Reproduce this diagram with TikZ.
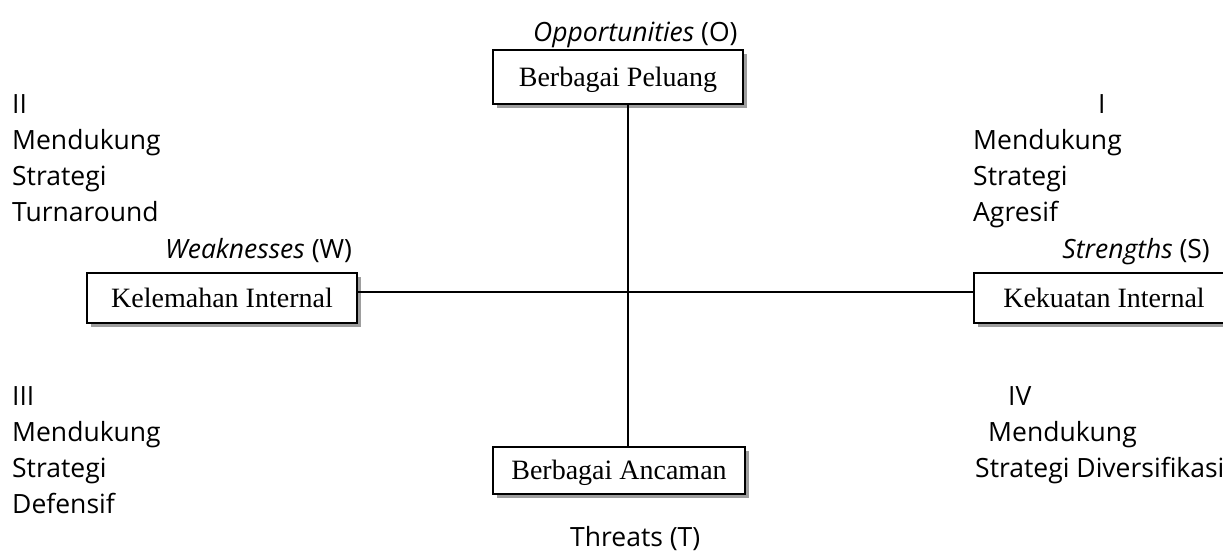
\documentclass[tikz,border=0pt]{standalone}
\usepackage{fontspec}
\usepackage{tikz}
\usetikzlibrary{shadows}
\setmainfont{Liberation Serif}
\newfontfamily\sansopen{Open Sans}
\tikzstyle{kotak} = [draw, line width=1.8pt, fill=white, inner sep=0pt, text height=18pt, text depth=0pt, font=\fontsize{28}{32}\selectfont, drop shadow={shadow xshift=3.5pt, shadow yshift=-3.5pt, fill=black!38, opacity=1}]
\tikzstyle{teks} = [anchor=base west, inner sep=0pt, font=\sansopen\fontsize{26.5}{32}\selectfont]
\tikzstyle{garis} = [line width=1.6pt]

\begin{document}
\begin{tikzpicture}[x=1pt, y=-1pt]
        \useasboundingbox (0,0) rectangle (1223,552);
        % kotak-kotak
        \node[kotak, minimum width=250pt, minimum height=54pt] (peluang) at (618,77) {Berbagai Peluang};
        \node[kotak, minimum width=252pt, minimum height=47pt] (ancaman) at (619,470.5) {Berbagai Ancaman};
        \node[kotak, minimum width=270pt, minimum height=50pt] (kelemahan) at (222,298) {Kelemahan Internal};
        \node[kotak, minimum width=260pt, minimum height=50pt] (kekuatan) at (1104,298) {Kekuatan Internal};
        \draw[garis] ([xshift=10pt]peluang.south) -- ([xshift=9pt]ancaman.north);
        \draw[garis] ([yshift=6pt]kelemahan.east) -- ([yshift=6pt]kekuatan.west);
        % label sumbu
        \node[teks] (opp) at (533,41) {\textit{Opportunities} (O)};
        \node[teks] (thr) at (570,546) {Threats (T)};
        \node[teks] (wea) at (165,258) {\textit{Weaknesses} (W)};
        \node[teks, anchor=base east] (str) at (1210,258) {\textit{Strengths} (S)};
        % kuadran
        \foreach \baris [count=\i from 0] in {II, Mendukung, Strategi, Turnaround}
                \node[teks] (kuadII-\i) at (12,{113+36.3*\i}) {\baris};
        \node[teks] (kuadI-0) at (1098,113) {I};
        \foreach \baris [count=\i] in {Mendukung, Strategi, Agresif}
                \node[teks] (kuadI-\i) at (973,{113+36.3*\i}) {\baris};
        \foreach \baris [count=\i from 0] in {III, Mendukung, Strategi, Defensif}
                \node[teks] (kuadIII-\i) at (12,{405+36.3*\i}) {\baris};
        \node[teks] (kuadIV-0) at (1008,405) {IV};
        \node[teks] (kuadIV-1) at (988,441.3) {Mendukung};
        \node[teks] (kuadIV-2) at (975,477.6) {Strategi Diversifikasi};
\end{tikzpicture}
\end{document}
